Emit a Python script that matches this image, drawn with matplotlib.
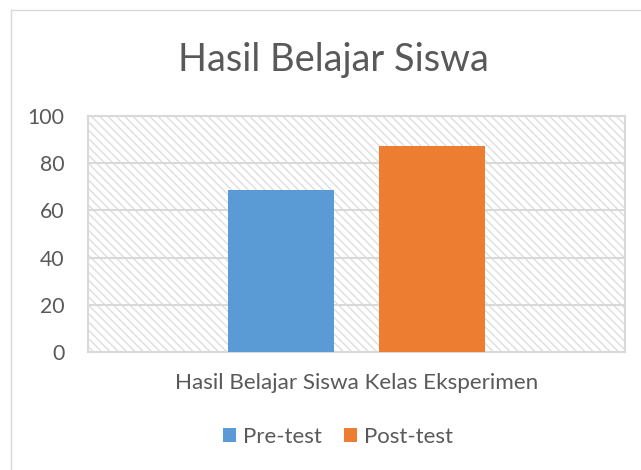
import matplotlib
matplotlib.use("Agg")
import matplotlib.pyplot as plt
from matplotlib.patches import Rectangle, Patch
from matplotlib.lines import Line2D

title = "Hasil Belajar Siswa"
category = "Hasil Belajar Siswa Kelas Eksperimen"
series_names = ["Pre-test", "Post-test"]
series_values = [68.6, 87.4]
series_colors = ["#5b9bd5", "#ed7d31"]
yticks = [0, 20, 40, 60, 80, 100]

plt.rcParams['font.family'] = ['Lato', 'DejaVu Sans']
plt.rcParams['hatch.color'] = '#dedede'
plt.rcParams['hatch.linewidth'] = 1.0

W, H = 641, 470
fig = plt.figure(figsize=(W/100, H/100), dpi=100)
fig.patch.set_facecolor('white')

# outer chart border (left and top)
fig.add_artist(Line2D([11/W, 11/W], [0, 1-10/H], color='#d9d9d9', lw=1.0, transform=fig.transFigure))
fig.add_artist(Line2D([11/W, 1], [1-10/H, 1-10/H], color='#d9d9d9', lw=1.0, transform=fig.transFigure))

l, r, t, b = 88, 625, 116, 352
ax = fig.add_axes([l/W, 1-b/H, (r-l)/W, (b-t)/H])
ax.set_facecolor('white')
ax.add_patch(Rectangle((0, 0), 1, 1, transform=ax.transAxes, facecolor='white',
                       edgecolor='#dedede', hatch='\\\\\\\\', lw=0, zorder=0))

bar_w = 106/537
offsets = [-75.5/537, 75.5/537]
for name, v, c, o in zip(series_names, series_values, series_colors, offsets):
    ax.bar(0 + o, v, width=bar_w, color=c, zorder=3, label=name)

ax.set_xlim(-0.5, 0.5)
ax.set_ylim(0, 100)
ax.set_yticks(yticks)
ax.set_yticklabels([str(v) for v in yticks], fontsize=15.3, color='#595959')
ax.set_xticks([0])
ax.set_xticklabels([category], fontsize=16.2, color='#595959')
ax.tick_params(axis='y', length=0, pad=17)
ax.tick_params(axis='x', length=0, pad=15)
for y in yticks[1:]:
    ax.axhline(y, color='#d9d9d9', lw=1.5, zorder=1)
for s in ax.spines.values():
    s.set_color('#d9d9d9')
    s.set_linewidth(1.5)

fig.text(333/W, 1-60/H, title, ha='center', va='center', fontsize=27.4, color='#595959')

handles = [Patch(facecolor=c, edgecolor='none') for c in series_colors]
fig.legend(handles, series_names, loc='center', bbox_to_anchor=(338/W, 1-437/H), ncol=2,
           frameon=False, fontsize=16, labelcolor='#595959', handlelength=0.6, handleheight=0.6,
           handletextpad=0.3, columnspacing=1.0)

fig.savefig('out.png', dpi=100)
